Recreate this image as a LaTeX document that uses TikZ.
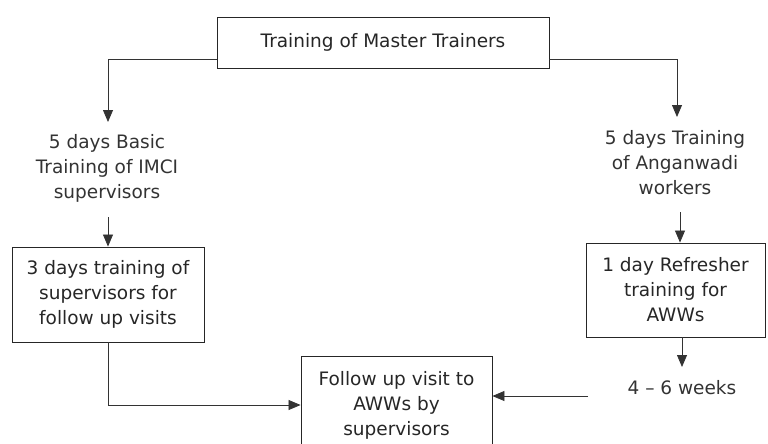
\documentclass[tikz,border=0pt]{standalone}
\usepackage{fontspec}
\setmainfont{DejaVu Sans}
\usetikzlibrary{arrows.meta}
\tikzset{
  line/.style={draw=black!80, line width=0.8pt},
  arr/.style={line, -{Triangle[length=12pt,width=10pt]}},
  box/.style={draw=black!85, line width=0.9pt, align=center, inner sep=0pt,
    font=\fontsize{18.5}{25}\selectfont, text=black!85},
  txt/.style={align=center, inner sep=0pt, font=\fontsize{18.5}{25}\selectfont, text=black!80}
}
\begin{document}
\begin{tikzpicture}[x=1pt,y=-1pt]
\useasboundingbox (0,0) rectangle (768,444);
\node[box, minimum width=332pt, minimum height=51pt] (top) at (383,42.5) {Training of Master Trainers};
\node[txt] (ltxt) at (107,168) {5 days Basic\\Training of IMCI\\supervisors};
\node[txt] (rtxt) at (675,163) {5 days Training\\of Anganwadi\\workers};
\node[box, minimum width=192pt, minimum height=95pt] (lbox) at (108,294.5) {3 days training of\\supervisors for\\follow up visits};
\node[box, minimum width=179pt, minimum height=94pt] (rbox) at (675.5,290) {1 day Refresher\\training for\\AWWs};
\node[txt] (wk) at (682,388) {4 -- 6 weeks};
\node[box, minimum width=191pt, minimum height=98pt] (fol) at (396.5,405) {Follow up visit to\\AWWs by\\supervisors};
\coordinate (la) at (108,122);
\coordinate (ra) at (677,117);
\coordinate (lb) at (108,217);
\coordinate (rb) at (680,212);
\coordinate (rc) at (682,367);
\coordinate (wa) at (588,396);
\draw[arr] ([yshift=-16.5pt]top.west) -| (la);
\draw[arr] ([yshift=-16.5pt]top.east) -| (ra);
\draw[arr] (lb) -- (lbox.north);
\draw[arr] (rb) -- (rb |- rbox.north);
\draw[arr] (rc |- rbox.south) -- (rc);
\draw[arr] (lbox.south) |- (fol.west);
\draw[arr] (wa) -- (wa -| fol.east);
\end{tikzpicture}
\end{document}
